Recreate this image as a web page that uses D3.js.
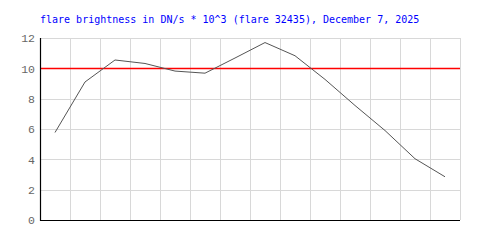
<!DOCTYPE html>
<html>
<head>
<meta charset="utf-8">
<script src="https://cdn.jsdelivr.net/npm/d3@7"></script>
<style>
  body { margin: 0; background: #fff; }
</style>
</head>
<body>
<div class="chart"></div>
<script>
/* data */
const titleText = "flare brightness in DN/s * 10^3 (flare 32435), December 7, 2025";
const steps = d3.range(14);
const brightness = [5.77, 9.1, 10.55, 10.32, 9.82, 9.68, 10.68, 11.7, 10.83, 9.27, 7.55, 5.9, 4.04, 2.85];
const yTicks = [0, 2, 4, 6, 8, 10, 12];
const threshold = 10;

/* initialize SVG */
const width = 500;
const height = 250;
const margin = {top: 38, right: 40, bottom: 30, left: 40};

const svg = d3.select(".chart").append("svg")
  .attr("width", width)
  .attr("height", height)
  .attr("viewBox", [0, 0, width, height]);

/* scales */
const x = d3.scaleBand()
  .domain(steps)
  .range([margin.left, width - margin.right]);

const y = d3.scaleLinear()
  .domain([0, 12])
  .range([height - margin.bottom, margin.top]);

/* title */
svg.append("text")
  .attr("x", 40)
  .attr("y", 23)
  .style("font-family", "'DejaVu Sans Mono', monospace")
  .style("font-size", "10px")
  .style("fill", "#0000ff")
  .text(titleText);

/* grid lines */
const grid = svg.append("g").attr("class", "grid");
grid.selectAll("line.h")
  .data(yTicks)
  .join("line")
    .attr("class", "h")
    .attr("x1", margin.left)
    .attr("x2", width - margin.right)
    .attr("y1", d => Math.round(y(d)) + 0.5)
    .attr("y2", d => Math.round(y(d)) + 0.5)
    .style("stroke", "#d8d8d8");

grid.selectAll("line.v")
  .data(steps.concat([14]))
  .join("line")
    .attr("class", "v")
    .attr("x1", d => (d < 14 ? x(d) : x(13) + x.bandwidth()) + 0.5)
    .attr("x2", d => (d < 14 ? x(d) : x(13) + x.bandwidth()) + 0.5)
    .attr("y1", y(12))
    .attr("y2", y(0))
    .style("stroke", "#d8d8d8");

/* y axis labels */
const yAxis = svg.append("g")
  .attr("transform", `translate(${margin.left},0)`)
  .call(d3.axisLeft(y).tickValues(yTicks).tickSize(0).tickPadding(5));
yAxis.select(".domain").remove();
yAxis.selectAll("text")
  .style("font-family", "'Liberation Mono', 'DejaVu Sans Mono', monospace")
  .style("font-size", "11.5px")
  .style("fill", "#666");

/* threshold line */
svg.append("line")
  .attr("x1", margin.left)
  .attr("x2", width - margin.right)
  .attr("y1", Math.round(y(threshold)) + 0.5)
  .attr("y2", Math.round(y(threshold)) + 0.5)
  .style("stroke", "#ff0000")
  .style("stroke-width", 1.5);

/* brightness line */
const line = d3.line()
  .x((d, i) => x(steps[i]) + x.bandwidth() / 2)
  .y(d => y(d));

svg.append("path")
  .datum(brightness)
  .attr("d", line)
  .attr("fill", "none")
  .style("stroke", "#555")
  .style("stroke-width", 1);

/* axis lines */
svg.append("line")
  .attr("x1", margin.left + 0.5)
  .attr("x2", margin.left + 0.5)
  .attr("y1", y(12))
  .attr("y2", y(0) + 1)
  .style("stroke", "#000")
  .style("stroke-width", 1.2);
svg.append("line")
  .attr("x1", margin.left)
  .attr("x2", width - margin.right)
  .attr("y1", Math.round(y(0)) + 0.5)
  .attr("y2", Math.round(y(0)) + 0.5)
  .style("stroke", "#000")
  .style("stroke-width", 1.2);
</script>
</body>
</html>
